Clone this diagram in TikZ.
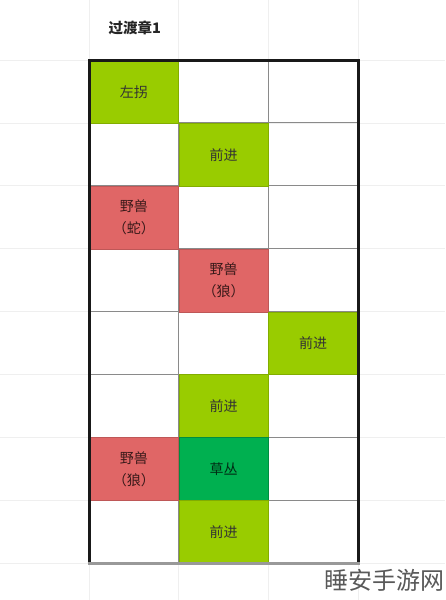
\documentclass[tikz,border=0pt]{standalone}
\usepackage{fontspec}
\setmainfont{Noto Sans CJK SC}
\definecolor{lime}{HTML}{99CC00}
\definecolor{beast}{HTML}{E06666}
\definecolor{bush}{HTML}{00B050}
\definecolor{faint}{HTML}{EFEFEF}
\definecolor{inner}{HTML}{8A8A8A}
\begin{document}
\begin{tikzpicture}[x=1pt,y=-1pt,
  cellbox/.style={minimum width=89pt,minimum height=62.9pt,inner sep=0pt,
    anchor=north west,align=center,font=\fontsize{14}{22}\selectfont,text=black!80},
  limecell/.style={cellbox,fill=lime,draw=lime!85!black,line width=0.8pt},
  beastcell/.style={cellbox,fill=beast,draw=beast!85!black,line width=0.8pt,text=black!75!beast},
  bushcell/.style={cellbox,fill=bush,draw=bush!80!black,line width=0.8pt,text=black!75!bush},
  faintline/.style={draw=faint,line width=0.8pt},
  innerline/.style={draw=inner,line width=1pt},
]
\useasboundingbox (0,0) rectangle (445,600);
\fill[white] (0,0) rectangle (445,600);
% spreadsheet background gridlines
\foreach \x in {89,178.7,268.3,358} \draw[faintline] (\x,0) -- (\x,600);
\foreach \y in {60,122.9,185.8,248.6,311.5,374.4,437.3,500.1,563} \draw[faintline] (0,\y) -- (445,\y);
% title
\node[anchor=west,font=\fontsize{14.5}{17}\selectfont\bfseries,text=black!85] (title) at (105,28) {过渡章1};
% inner grid lines
\draw[innerline] (178.7,60) -- (178.7,563);
\draw[innerline] (268.3,60) -- (268.3,563);
\foreach \y in {122.9,185.8,248.6,311.5,374.4,437.3,500.1} \draw[innerline] (89,\y) -- (358,\y);
% coloured cells, on top of the grid lines
\node[limecell]  (c11) at (89,60)      {左拐};
\node[limecell]  (c22) at (178.7,122.9) {前进};
\node[beastcell] (c31) at (89,185.8)   {野兽\\（蛇）};
\node[beastcell] (c42) at (178.7,248.6) {野兽\\（狼）};
\node[limecell]  (c53) at (268.3,311.5) {前进};
\node[limecell]  (c62) at (178.7,374.4) {前进};
\node[beastcell] (c71) at (89,437.3)   {野兽\\（狼）};
\node[bushcell]  (c72) at (178.7,437.3) {草丛};
\node[limecell]  (c82) at (178.7,500.1) {前进};
% outer border
\draw[line width=3pt,black!90,line cap=rect] (89,563) -- (89,60) -- (358,60) -- (358,563);
\draw[line width=3pt,black!40] (87.5,563) -- (359.5,563);
% watermark
\node[anchor=west,font=\fontsize{24}{28}\selectfont,text=black!65] (mark) at (321,580) {睡安手游网};
\end{tikzpicture}
\end{document}
